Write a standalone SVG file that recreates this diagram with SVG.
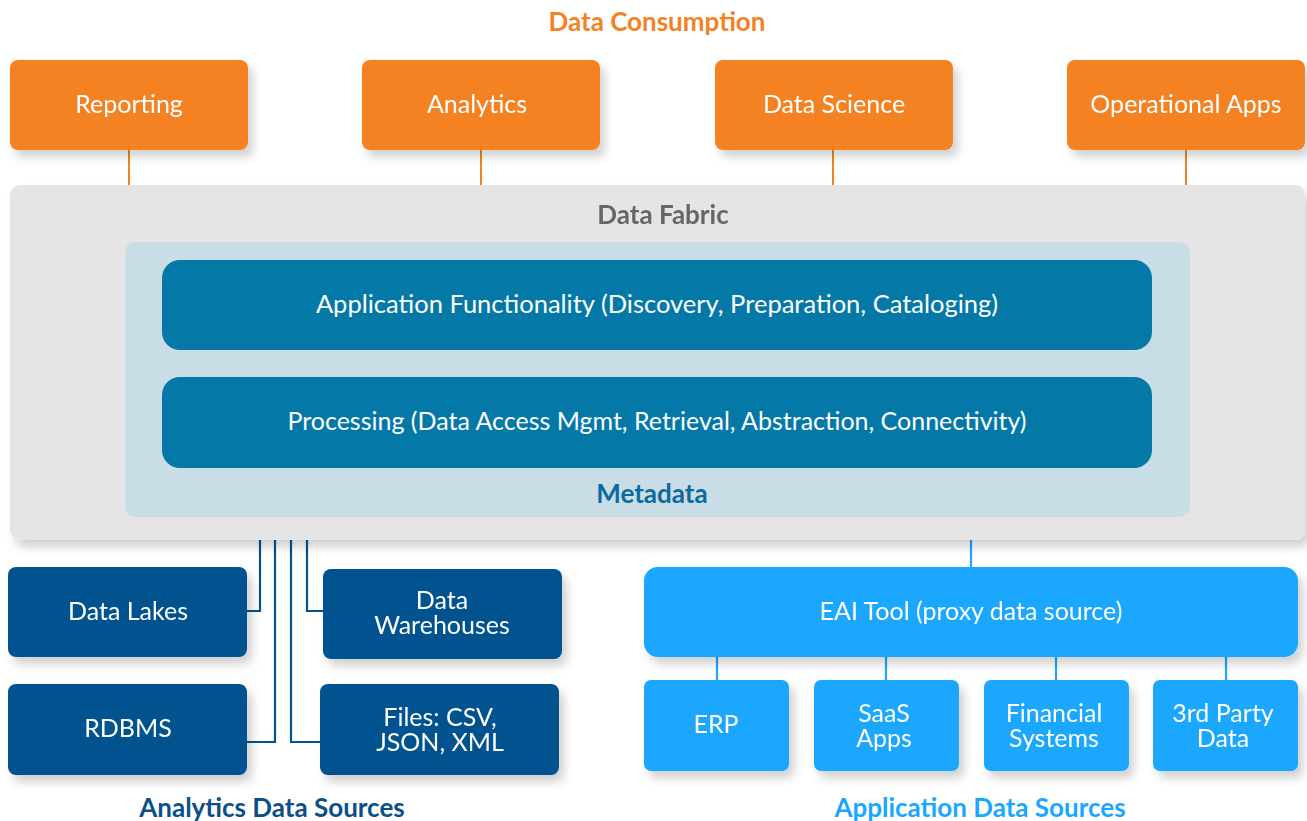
<svg xmlns="http://www.w3.org/2000/svg" width="1307" height="821" viewBox="0 0 1307 821">
  <style>
    text { font-family: Lato, "Noto Sans", "Liberation Sans", sans-serif; text-anchor: middle; dominant-baseline: central; }
    .lbl { fill: #ffffff; font-size: 25px; }
    .wide { font-size: 25.5px; }
    .proc { font-size: 25px; }
    .head { font-weight: bold; font-size: 26px; }
    .consume { fill: #F48224; }
    .fabric-bg { fill: #E5E5E5; }
    .meta-bg { fill: #C9DDE7; }
    .layer { fill: #0479A8; }
    .dark { fill: #03538F; }
    .bright { fill: #1AA7FF; }
    .c-orange { stroke: #F48224; stroke-width: 2; fill: none; }
    .c-dark { stroke: #03538F; stroke-width: 2.2; fill: none; }
    .c-bright { stroke: #1AA7FF; stroke-width: 2.2; fill: none; }
  </style>
  <defs>
    <filter id="shadow" x="-10%" y="-20%" width="130%" height="150%">
      <feDropShadow dx="5" dy="7" stdDeviation="5" flood-color="#000" flood-opacity="0.18"/>
    </filter>
  </defs>
  <rect width="1307" height="821" fill="#ffffff"/>

  <text class="head" x="657" y="21" fill="#F48224">Data Consumption</text>

  <!-- connectors -->
  <g id="connectors">
    <path class="c-orange" d="M129 150V186M481 150V186M833 150V186M1186 150V186"/>
    <path class="c-dark" d="M260 540V611H247M275 540V742H247M291 540V742H321M307 540V611H324"/>
    <path class="c-bright" d="M971 540V568M717 656V681M886 656V681M1056 656V681M1226 656V681"/>
  </g>

  <!-- data consumers -->
  <g id="reporting" filter="url(#shadow)">
    <rect class="consume" x="10" y="60" width="238" height="90" rx="8"/>
    <text class="lbl" x="129" y="103">Reporting</text>
  </g>
  <g id="analytics" filter="url(#shadow)">
    <rect class="consume" x="362" y="60" width="238" height="90" rx="8"/>
    <text class="lbl" x="477" y="103">Analytics</text>
  </g>
  <g id="data-science" filter="url(#shadow)">
    <rect class="consume" x="715" y="60" width="238" height="90" rx="8"/>
    <text class="lbl" x="834" y="103">Data Science</text>
  </g>
  <g id="operational-apps" filter="url(#shadow)">
    <rect class="consume" x="1067" y="60" width="238" height="90" rx="8"/>
    <text class="lbl" x="1186" y="103">Operational Apps</text>
  </g>

  <!-- fabric layers -->
  <g id="data-fabric" filter="url(#shadow)">
    <rect class="fabric-bg" x="10" y="185" width="1295" height="355" rx="10"/>
    <text class="head" x="663" y="214" fill="#666666">Data Fabric</text>
  </g>
  <g id="metadata">
    <rect class="meta-bg" x="125" y="242" width="1065" height="275" rx="10"/>
    <text class="head" x="652" y="493" fill="#0B6A9E">Metadata</text>
  </g>
  <g id="app-functionality">
    <rect class="layer" x="162" y="260" width="990" height="90" rx="18"/>
    <text class="lbl wide" x="657" y="303">Application Functionality (Discovery, Preparation, Cataloging)</text>
  </g>
  <g id="processing">
    <rect class="layer" x="162" y="377" width="990" height="91" rx="18"/>
    <text class="lbl proc" x="657" y="420">Processing (Data Access Mgmt, Retrieval, Abstraction, Connectivity)</text>
  </g>

  <!-- analytics data sources -->
  <g id="data-lakes" filter="url(#shadow)">
    <rect class="dark" x="8" y="567" width="239" height="90" rx="8"/>
    <text class="lbl" x="128" y="610">Data Lakes</text>
  </g>
  <g id="rdbms" filter="url(#shadow)">
    <rect class="dark" x="8" y="684" width="239" height="91" rx="8"/>
    <text class="lbl" x="128" y="727">RDBMS</text>
  </g>
  <g id="data-warehouses" filter="url(#shadow)">
    <rect class="dark" x="323" y="569" width="239" height="90" rx="8"/>
    <text class="lbl" x="442" y="599"><tspan x="442" y="599">Data</tspan><tspan x="442" y="624">Warehouses</tspan></text>
  </g>
  <g id="files" filter="url(#shadow)">
    <rect class="dark" x="320" y="684" width="239" height="91" rx="8"/>
    <text class="lbl" x="440" y="716"><tspan x="440" y="716">Files: CSV,</tspan><tspan x="440" y="741">JSON, XML</tspan></text>
  </g>
  <text class="head" x="272" y="807" fill="#0B4F8A">Analytics Data Sources</text>

  <!-- application data sources -->
  <g id="eai-tool" filter="url(#shadow)">
    <rect class="bright" x="644" y="567" width="654" height="90" rx="14"/>
    <text class="lbl" x="971" y="610">EAI Tool (proxy data source)</text>
  </g>
  <g id="erp" filter="url(#shadow)">
    <rect class="bright" x="644" y="680" width="145" height="91" rx="7"/>
    <text class="lbl" x="716" y="723">ERP</text>
  </g>
  <g id="saas-apps" filter="url(#shadow)">
    <rect class="bright" x="814" y="680" width="145" height="91" rx="7"/>
    <text class="lbl" x="884" y="712"><tspan x="884" y="712">SaaS</tspan><tspan x="884" y="737">Apps</tspan></text>
  </g>
  <g id="financial-systems" filter="url(#shadow)">
    <rect class="bright" x="984" y="680" width="145" height="91" rx="7"/>
    <text class="lbl" x="1054" y="712"><tspan x="1054" y="712">Financial</tspan><tspan x="1054" y="737">Systems</tspan></text>
  </g>
  <g id="third-party-data" filter="url(#shadow)">
    <rect class="bright" x="1153" y="680" width="145" height="91" rx="7"/>
    <text class="lbl" x="1223" y="712"><tspan x="1223" y="712">3rd Party</tspan><tspan x="1223" y="737">Data</tspan></text>
  </g>
  <text class="head" x="980" y="807" fill="#1AA7FF">Application Data Sources</text>
</svg>
